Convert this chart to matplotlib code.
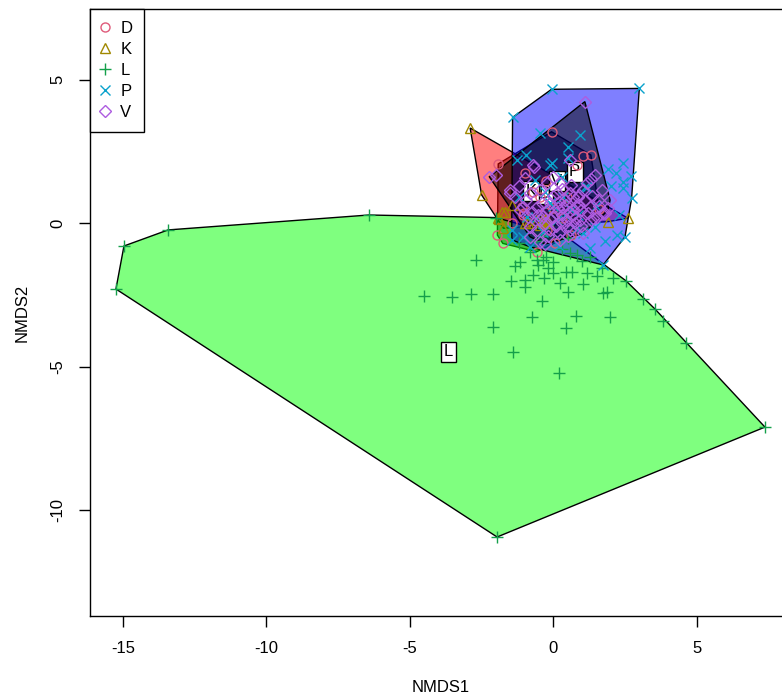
import numpy as np
import matplotlib
matplotlib.use("Agg")
import matplotlib.pyplot as plt
from matplotlib.lines import Line2D
from matplotlib.patches import Polygon

plt.rcParams['font.family'] = ['Liberation Sans', 'DejaVu Sans']
plt.rcParams['axes.unicode_minus'] = False

# NMDS scores per group
groups = ['D', 'K', 'L', 'P', 'V']

D_x = [-0.06, 1.31, -1.92, -0.99, -0.25, -1.95, -1.76, -0.58, -1.06, 0.06, 0.82, -0.70, -0.46,
       0.47, -0.93, 0.00, -0.23, -1.45, -1.10, -1.03, 1.05, 1.60, 0.30, -0.30, 0.60]
D_y = [3.19, 2.38, 2.07, 1.76, 1.48, -0.41, -0.70, -0.99, 0.29, -0.68, 2.03, 1.10, 0.93,
       0.93, 0.06, 0.52, -0.23, 0.00, 0.58, 0.35, 2.35, 0.50, 0.20, 0.40, -0.40]

K_x = [-2.90, -2.50, 2.60, 1.92, -1.80, -1.89, -0.88, -0.36, -0.57, -1.45, -1.92, -1.74, -0.99,
       -0.35, -1.68, -0.40, -0.30, -0.45, -0.20, -0.30]
K_y = [3.32, 0.99, 0.18, 0.06, 0.40, 0.15, 0.01, 0.05, 0.11, 0.64, 0.17, -0.17, 0.00,
       0.00, 0.40, 0.10, 0.00, -0.05, 0.08, 0.15]

L_x = [-15.25, -14.97, -13.43, -6.43, -2.00, 1.70, -1.96, -4.51,
       -2.70, -1.32, -1.49, -0.99, -0.99, -0.70, -0.32, 0.00, 0.23, 0.44, 0.64, 0.52, 1.05,
       1.16, 1.53, 1.74, 1.86, 2.09, 2.53, 3.12, 3.55, 3.81, 4.63, 7.38, -3.54, -2.87, -2.11,
       -0.38, -0.75, 0.79, 1.98, -2.11, 0.43, -1.39, 0.19, -0.58, -0.35, -0.02, -0.81, 0.58,
       0.82, 1.28, -0.25, -0.53, -0.18, -1.16, -1.20, -0.60, 0.30, 1.00, -0.40, 0.50]
L_y = [-2.29, -0.79, -0.23, 0.29, 0.20, -1.55, -10.93, -2.54,
       -1.28, -1.49, -2.00, -1.98, -2.21, -1.80, -1.92, -1.74, -2.09, -1.69, -1.69, -2.38, -2.13,
       -1.74, -1.84, -2.44, -2.38, -1.92, -2.00, -2.65, -2.99, -3.39, -4.17, -7.10, -2.56, -2.47, -2.47,
       -2.70, -3.28, -3.23, -3.25, -3.62, -3.66, -4.47, -5.23, -1.28, -1.28, -1.34, -0.99, -1.05,
       -1.10, -1.16, -1.17, -1.45, -1.56, -1.35, -0.70, -0.60, -0.90, -1.30, -0.45, -0.50]

P_x = [-0.06, 3.00, -1.42, -0.46, 0.93, 0.52, -1.28, -0.95, -0.12, 2.42, 2.19, 2.70, 2.42,
       2.73, 2.50, 1.74, 1.16, 0.29, -0.64, 1.05, 1.28, -0.81, -1.05, -1.45, -1.44, -0.06,
       0.52, 2.44, 1.10, 0.35, -0.29, -0.93, 0.12, 0.87, 1.45, -0.35, 2.21, 0.60, 1.50, -0.10,
       0.00, 0.40, 0.80, 1.90, 2.30, 0.20, -0.60, 1.80, 2.00, -1.20]
P_y = [4.67, 4.70, 3.69, 3.14, 3.08, 2.65, 2.21, 2.38, 2.03, 2.09, 1.74, 1.65, 1.22,
       0.87, -0.47, -1.45, 1.28, 1.62, 1.51, -0.35, -0.87, -0.82, -0.47, -0.23, -0.58, 2.09,
       2.26, 1.45, 1.28, 0.93, 1.10, 0.23, 0.11, 0.29, -0.12, -0.29, -0.41, 0.45, 0.60, 0.70,
       0.60, 0.30, -0.20, 1.90, 0.30, -0.80, 0.20, -0.60, 1.30, 0.90]

V_x = [1.10, -2.23, -2.00, -1.51, -1.34, -0.68, 0.58, 1.45, 1.69, 1.98, 1.92, 1.57, 1.16,
       0.58, 0.23, 0.00, -0.23, -0.46, -0.81, -1.05, -0.58, -0.12, 0.35, 0.82, 1.28, 0.93,
       0.47, 0.00, -0.46, -0.81, -0.12, 0.58, 1.05, 0.23, -0.46, 0.70, 0.12, 1.05, 1.51,
       -1.51, -1.16, -0.87, -0.58, -0.81, -0.70, -0.99, -0.29, 0.10, 0.30, 0.55, 0.75, 0.95,
       0.20, 0.40, 0.65, -0.20, -0.35, 0.85, 1.30, 0.05, 1.75,
       0.15, 0.45, 0.70, 0.90, 1.10, 1.35, 1.60, 1.80, 1.40, 1.20, 0.95, 0.75, 0.50, 0.30,
       0.10, -0.10, -0.30, -0.55, -0.75, -0.95, -1.20, -0.40, 0.00, 0.30, 0.60, 0.90, 1.30,
       -0.20, 0.20, 0.50]
V_y = [4.24, 1.62, 1.68, 1.16, 0.93, 1.97, 2.21, 1.68, 1.16, 0.81, 0.52, 0.81, 1.39,
       1.05, 1.39, 1.62, 1.39, 1.16, 1.05, 0.58, 0.58, 0.70, 0.58, 0.58, 0.58, 0.11,
       0.11, 0.23, 0.11, -0.12, -0.23, -0.23, -0.35, -0.58, -0.64, 0.93, 1.05, 1.16, 0.23,
       1.05, 0.46, 0.23, -0.23, -0.47, 2.03, 1.57, -0.72, 0.35, 0.30, 0.40, 0.20, 0.45,
       0.75, 0.80, 0.30, 0.45, 0.25, 0.90, 0.10, -0.05, 0.35,
       0.55, 0.65, 0.50, 0.65, 0.80, 0.95, 0.60, 0.35, 0.20, 0.35, -0.10, 0.00, -0.10, 0.00,
       -0.10, 0.15, 0.00, 0.30, 0.40, 0.80, 1.30, 0.70, 0.95, 1.20, 1.35, 1.00, 1.55,
       -0.45, -0.35, -0.45]

xs = {'D': D_x, 'K': K_x, 'L': L_x, 'P': P_x, 'V': V_x}
ys = {'D': D_y, 'K': K_y, 'L': L_y, 'P': P_y, 'V': V_y}

pt_col = {'D': '#DF5A7A', 'K': '#A08800', 'L': '#14A04A', 'P': '#0AA2CC', 'V': '#AD5CE0'}
hull_col = {'D': 'black', 'K': 'red', 'L': '#00FF00', 'P': 'blue', 'V': 'black'}
mk = {'D': 'o', 'K': '^', 'L': '+', 'P': 'x', 'V': 'D'}
ms = {'D': 6.5, 'K': 7, 'L': 9, 'P': 7, 'V': 5.8}


def hull(px, py):
    # monotone chain convex hull
    pts = sorted(set(zip(px, py)))

    def cross(o, a, b):
        return (a[0]-o[0])*(b[1]-o[1]) - (a[1]-o[1])*(b[0]-o[0])
    lower, upper = [], []
    for p in pts:
        while len(lower) >= 2 and cross(lower[-2], lower[-1], p) <= 0:
            lower.pop()
        lower.append(p)
    for p in reversed(pts):
        while len(upper) >= 2 and cross(upper[-2], upper[-1], p) <= 0:
            upper.pop()
        upper.append(p)
    return np.array(lower[:-1] + upper[:-1])


def centroid(h):
    x, y = h[:, 0], h[:, 1]
    x1, y1 = np.roll(x, -1), np.roll(y, -1)
    c = x*y1 - x1*y
    a = c.sum()/2
    return (((x+x1)*c).sum()/(6*a), ((y+y1)*c).sum()/(6*a))


fig = plt.figure(figsize=(7.82, 6.97), dpi=100)
ax = fig.add_axes([90/782, 1-615.7/697, 701/782, 606.4/697])
ax.set_xlim(-16.154, 8.288)
ax.set_ylim(-13.672, 7.457)

hulls = {}
for i, g in enumerate(groups):
    h = hull(xs[g], ys[g])
    hulls[g] = h
    ax.add_patch(Polygon(h, closed=True, facecolor=hull_col[g], alpha=0.5,
                         edgecolor='none', zorder=2+i))
    ax.add_patch(Polygon(h, closed=True, facecolor='none', edgecolor='black',
                         lw=1.0, zorder=2+i))

for g in groups:
    cx, cy = centroid(hulls[g])
    ax.text(cx, cy, g, fontsize=12, ha='center', va='center', zorder=10,
            bbox=dict(boxstyle='square,pad=0.15', facecolor='white', edgecolor='black', lw=1.0))

for g in groups:
    if mk[g] in ('+', 'x'):
        ax.plot(xs[g], ys[g], ls='none', marker=mk[g], ms=ms[g], mew=1.0,
                color=pt_col[g], zorder=11)
    else:
        ax.plot(xs[g], ys[g], ls='none', marker=mk[g], ms=ms[g], mew=1.0,
                mfc='none', mec=pt_col[g], zorder=11)

handles = []
for g in groups:
    if mk[g] in ('+', 'x'):
        handles.append(Line2D([], [], ls='none', marker=mk[g], ms=ms[g], mew=1.0, color=pt_col[g]))
    else:
        handles.append(Line2D([], [], ls='none', marker=mk[g], ms=ms[g], mew=1.0,
                              mfc='none', mec=pt_col[g]))
leg = ax.legend(handles, groups, loc='upper left', borderaxespad=0, fancybox=False,
                framealpha=1, edgecolor='black', fontsize=12, handlelength=0.4,
                handletextpad=0.7, labelspacing=0.36, borderpad=0.72)
leg.get_frame().set_linewidth(1.0)
leg.set_zorder(20)

ax.set_xticks([-15, -10, -5, 0, 5])
ax.set_yticks([-10, -5, 0, 5])
ax.tick_params(length=8, width=1.0, pad=10, labelsize=12)
for lab in ax.get_yticklabels():
    lab.set_rotation(90)
    lab.set_va('center')
for s in ax.spines.values():
    s.set_linewidth(1.0)

ax.set_xlabel('NMDS1', fontsize=12, va='center')
ax.set_ylabel('NMDS2', fontsize=12, va='center')
ax.xaxis.set_label_coords(0.5, -0.119)
ax.yaxis.set_label_coords(-0.097, 0.5)

fig.savefig('out.png', dpi=100)
